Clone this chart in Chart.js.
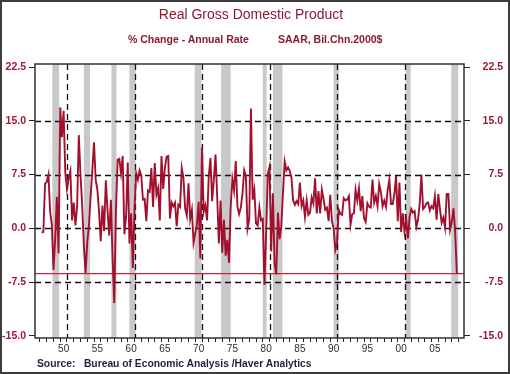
<!DOCTYPE html>
<html>
<head>
<meta charset="utf-8">
<script src="https://cdn.jsdelivr.net/npm/chart.js@4.4.1/dist/chart.umd.min.js"></script>
<style>
  body { margin: 0; background: #fff; }
  #wrap { position: relative; width: 510px; height: 374px; font-family: "Liberation Sans", Arial, sans-serif; }
  #myChart { position: absolute; left: 0; top: 0; }
  #frame { position: absolute; left: 0; top: 0; width: 510px; height: 374px; box-sizing: border-box; border: 2px solid #3c3c3c; pointer-events: none; }
  .txt { position: absolute; white-space: nowrap; }
  #title { left: 0; width: 502px; text-align: center; top: 6.5px; font-size: 14px; line-height: 14px; color: #8b1a2e; }
  .sub { top: 33.5px; font-size: 10.5px; line-height: 10.5px; font-weight: bold; color: #8b1a2e; }
  #sub1 { left: 128px; }
  #sub2 { left: 278px; }
  #source { left: 37px; top: 359px; font-size: 10.3px; line-height: 10.3px; font-weight: bold; color: #1f2040; }
</style>
</head>
<body>
<div id="wrap">
  <canvas id="myChart" width="510" height="374"></canvas>
  <div class="txt" id="title">Real Gross Domestic Product</div>
  <div class="txt sub" id="sub1">% Change - Annual Rate</div>
  <div class="txt sub" id="sub2">SAAR, Bil.Chn.2000$</div>
  <div class="txt" id="source">Source:&nbsp;&nbsp; Bureau of Economic Analysis /Haver Analytics</div>
  <div id="frame"></div>
</div>
<script>
// quarterly % change, annual rate (first value = 1947 Q2)
const firstQuarter = 1947.25;
const gdp1940s = [-0.6, -0.5, 6.2, 6.5, 7.5, 2.3, 0.6, -5.8, -1.4, 4.4, -3.5];
const gdp1950s = [16.9, 12.7, 16.4, 7.7, 5.5, 7.0, 8.0, 1.1, 3.6, 0.4, 3.1, 13.0,
  7.5, 3.2, -2.4, -6.2, -1.9, 0.4, 4.5, 8.1, 12.0, 6.8, 5.4, 2.3,
  -1.8, 3.2, -0.4, 6.7, 2.6, -1.0, 4.0, -4.1, -10.4, 2.5, 9.6, 9.7,
  7.7, 10.1, -0.8, 1.6];
const gdp1960s = [9.2, -2.1, 2.1, -5.5, 2.7, 7.7, 6.8, 8.1, 7.4, 4.0, 4.1, 1.0,
  5.3, 5.1, 8.4, 3.0, 9.1, 4.7, 5.6, 1.1, 10.1, 5.5, 8.4, 10.0,
  10.1, 1.4, 3.6, 3.1, 3.6, 0.3, 3.3, 3.0, 8.4, 7.0, 2.8, 1.8,
  6.3, 1.3, 2.6, -2.0];
const gdp1970s = [-0.7, 0.6, 3.7, -4.2, 11.3, 2.3, 3.2, 1.1, 7.3, 9.8, 3.8, 6.8,
  10.3, 4.4, -2.1, 3.9, -3.4, 1.2, -3.8, -1.6, -4.8, 3.1, 6.9, 5.3,
  9.4, 3.0, 2.0, 2.9, 4.9, 8.1, 7.3, 0.0, 1.3, 16.7, 4.0, 5.4,
  0.7, 0.4, 2.9, 1.1];
const gdp1980s = [1.3, -7.9, -0.7, 7.6, 8.6, -3.2, 4.9, -4.9, -6.4, 2.2, -1.5, 0.3,
  5.1, 9.3, 8.1, 8.5, 8.0, 7.1, 3.9, 3.3, 3.8, 3.4, 6.4, 3.1,
  3.9, 1.6, 3.9, 1.9, 2.2, 4.3, 3.5, 7.0, 2.1, 5.2, 2.1, 5.4,
  4.1, 2.6, 2.9, 1.0];
const gdp1990s = [4.7, 1.0, 0.0, -3.0, -2.0, 2.6, 2.0, 1.9, 4.2, 3.9, 4.0, 4.5,
  0.5, 2.0, 2.1, 5.4, 3.9, 5.6, 2.4, 4.5, 1.4, 0.9, 3.5, 3.0,
  2.9, 6.8, 3.6, 4.5, 3.1, 6.2, 5.1, 3.1, 3.9, 3.0, 5.3, 6.8,
  3.4, 3.4, 4.8, 7.3];
const gdp2000s = [1.0, 6.4, -0.5, 2.1, -0.5, 1.2, -1.4, 1.6, 2.7, 2.2, 2.4, 0.2,
  1.2, 3.5, 7.5, 2.7, 3.0, 3.5, 3.6, 2.5, 3.1, 2.8, 4.5, 1.2,
  4.8, 2.7, 0.8, 1.5, 0.1, 4.8, 4.8, -0.2, 0.9, 2.8, -0.5, -6.3];

// NBER recessions (decimal years)
const recessionStart = [1948.83, 1953.5, 1957.58, 1960.25, 1969.92, 1973.83, 1980.0, 1981.5, 1990.5, 2001.17, 2007.92];
const recessionEnd = [1949.83, 1954.42, 1958.33, 1961.17, 1970.92, 1975.25, 1980.58, 1982.92, 1991.25, 2001.92, 2008.95];

const decadeLines = [1951, 1961, 1971, 1981, 1991, 2001];
const yTicks = [-15, -7.5, 0, 7.5, 15, 22.5];
const yDashed = [-7.5, 0, 7.5, 15];
const xLabelYears = [1950, 1955, 1960, 1965, 1970, 1975, 1980, 1985, 1990, 1995, 2000, 2005];
const xLabels = ["50", "55", "60", "65", "70", "75", "80", "85", "90", "95", "00", "05"];
const xMin = 1946.26, xMax = 2009.81;
const yMin = -15.28, yMax = 22.92;

const gdp = [].concat(gdp1940s, gdp1950s, gdp1960s, gdp1970s, gdp1980s, gdp1990s, gdp2000s);
const points = gdp.map((v, i) => ({ x: firstQuarter + i * 0.25, y: v }));
const lastValue = gdp[gdp.length - 1];

const tickYears = [];
for (let y = 1947; y <= 2009; y++) tickYears.push(y);

const red = "#9b1b30";

const backdrop = {
  id: "backdrop",
  beforeDatasetsDraw(chart) {
    const { ctx, chartArea: { left, right, top, bottom }, scales: { x, y } } = chart;
    ctx.save();
    ctx.fillStyle = "#c8c8c8";
    for (let i = 0; i < recessionStart.length; i++) {
      const x0 = x.getPixelForValue(recessionStart[i]);
      const x1 = x.getPixelForValue(recessionEnd[i]);
      ctx.fillRect(x0, top, x1 - x0, bottom - top);
    }
    ctx.strokeStyle = "#111";
    ctx.lineWidth = 1.3;
    ctx.setLineDash([6, 4]);
    yDashed.forEach(v => {
      const py = Math.round(y.getPixelForValue(v)) + 0.5;
      ctx.beginPath();
      ctx.moveTo(left, py);
      ctx.lineTo(right, py);
      ctx.stroke();
    });
    decadeLines.forEach(v => {
      const px = Math.round(x.getPixelForValue(v)) + 0.5;
      ctx.beginPath();
      ctx.moveTo(px, top);
      ctx.lineTo(px, bottom);
      ctx.stroke();
    });
    ctx.restore();
  },
  afterDatasetsDraw(chart) {
    const { ctx, chartArea: { left, top, width, height } } = chart;
    ctx.save();
    ctx.strokeStyle = "#333";
    ctx.lineWidth = 1.5;
    ctx.strokeRect(left, top, width, height);
    ctx.restore();
  }
};

Chart.defaults.font.family = '"Liberation Sans", Arial, sans-serif';

const yAxis = (pos, width) => ({
  type: "linear",
  position: pos,
  min: yMin,
  max: yMax,
  afterBuildTicks: s => { s.ticks = yTicks.map(v => ({ value: v })); },
  afterFit: s => { s.width = width; },
  border: { display: false },
  grid: { drawOnChartArea: false, drawTicks: true, tickLength: 6, color: "#222", lineWidth: 1 },
  ticks: {
    padding: 3,
    crossAlign: pos === "right" ? "far" : "near",
    color: red,
    font: { size: 10.5, weight: "bold" },
    callback: v => v.toFixed(1)
  }
});

new Chart(document.getElementById("myChart"), {
  type: "line",
  data: {
    datasets: [
      {
        data: points,
        borderColor: "#a3102e",
        borderWidth: 1.9,
        pointRadius: 0,
        tension: 0,
        order: 0
      },
      {
        data: [{ x: xMin, y: lastValue }, { x: xMax, y: lastValue }],
        borderColor: "#c8243e",
        borderWidth: 1.2,
        pointRadius: 0,
        order: 1
      }
    ]
  },
  options: {
    responsive: false,
    devicePixelRatio: 1,
    animation: false,
    layout: { padding: { top: 64, right: 7, bottom: 0, left: 0 } },
    plugins: { legend: { display: false }, tooltip: { enabled: false } },
    scales: {
      x: {
        type: "linear",
        min: xMin,
        max: xMax,
        afterBuildTicks: s => { s.ticks = tickYears.map(v => ({ value: v })); },
        afterFit: s => { s.height = 36; },
        border: { display: false },
        grid: { drawOnChartArea: false, drawTicks: true, tickLength: 4, color: "#222" },
        ticks: {
          autoSkip: false,
          maxRotation: 0,
          padding: 1,
          labelOffset: 3.4,
          color: "#2a2a3a",
          font: { size: 10 },
          callback: v => {
            const k = xLabelYears.indexOf(v);
            return k >= 0 ? xLabels[k] : "";
          }
        }
      },
      y: yAxis("left", 35),
      y2: yAxis("right", 39)
    }
  },
  plugins: [backdrop]
});
</script>
</body>
</html>
